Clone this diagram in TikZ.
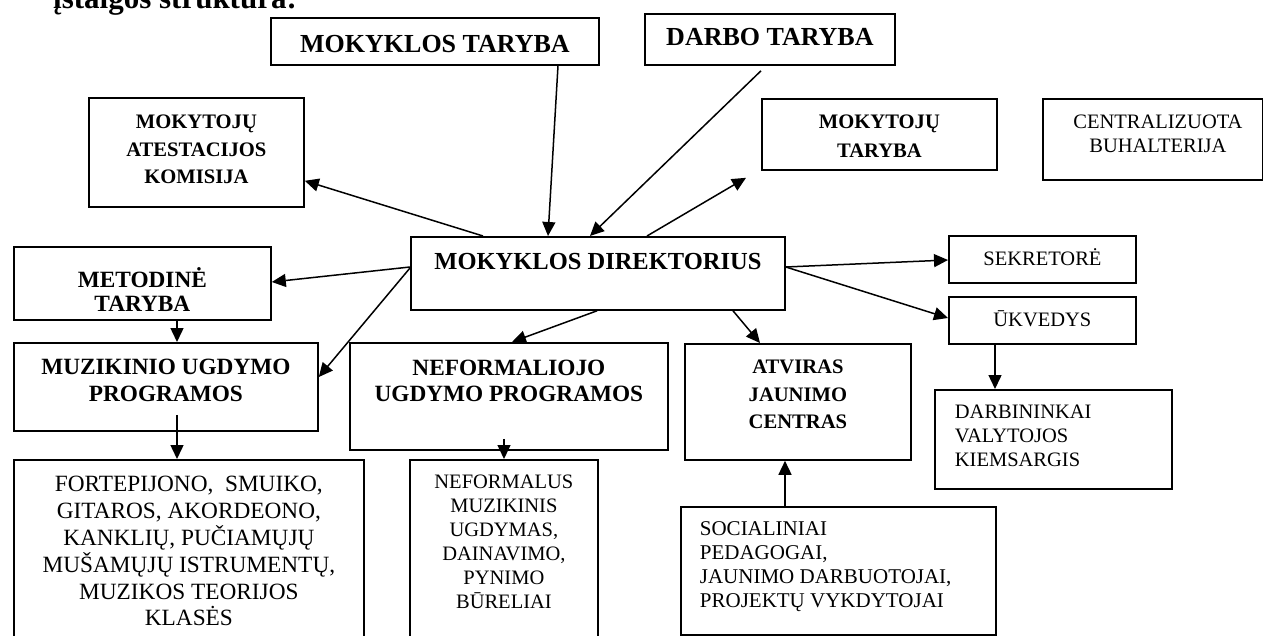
\documentclass[tikz,border=0pt]{standalone}
\usepackage{fontspec}
\setmainfont{Liberation Serif}
\usetikzlibrary{arrows.meta}

% box text: width, height, first baseline from top, line skip, lines
\newcommand{\cellbox}[5]{\parbox[c][#2][t]{#1}{\baselineskip=#4\relax\centering
  \vspace*{\dimexpr#3-1em\relax}\rule{0pt}{1em}#5\par}}
% same, left aligned with an indent
\newcommand{\leftcellbox}[6]{\parbox[c][#2][t]{#1}{\baselineskip=#4\relax\raggedright
  \leftskip=#5\relax\vspace*{\dimexpr#3-1em\relax}\rule{0pt}{1em}#6\par}}

\tikzset{
    box/.style={
        draw, line width=1.8pt,
        inner sep=0pt, anchor=north west
    },
    headbig/.style={box, font=\fontsize{26}{30}\selectfont\bfseries},
    headdir/.style={box, font=\fontsize{24.5}{28}\selectfont\bfseries},
    headmid/.style={box, font=\fontsize{23.3}{27}\selectfont\bfseries},
    headsmall/.style={box, font=\fontsize{20.6}{24}\selectfont\bfseries},
    listbox/.style={box, font=\fontsize{20.5}{24}\selectfont},
    listbig/.style={box, font=\fontsize{23.3}{27}\selectfont},
    link/.style={-{Triangle[length=14pt,width=13pt]}, line width=1.5pt}
}

\begin{document}
\begin{tikzpicture}[x=1pt, y=-1pt]

        \useasboundingbox (0,0) rectangle (1263,636);
        \clip (0,0) rectangle (1263,636);

        % Title
        \node[anchor=base west, inner sep=0pt, font=\fontsize{31}{36}\selectfont\bfseries]
            (title) at (53,9) {įstaigos struktūra:};

        % Councils
        \node[headbig] (mt) at (270,17) {\cellbox{328pt}{47pt}{35pt}{30pt}{MOKYKLOS TARYBA}};
        \node[headbig] (dt) at (644,13) {\cellbox{250pt}{51pt}{32pt}{30pt}{DARBO TARYBA}};
        \node[headsmall] (mak) at (88,97) {\cellbox{215pt}{109pt}{31pt}{27.5pt}{MOKYTOJŲ\\ATESTACIJOS\\KOMISIJA}};
        \node[headsmall] (mtar) at (761,98) {\cellbox{235pt}{71pt}{30pt}{28.5pt}{MOKYTOJŲ\\TARYBA}};
        \node[listbox] (cb) at (1042,98) {\cellbox{220pt}{81pt}{30pt}{24pt}{\hspace*{10pt}CENTRALIZUOTA\\\hspace*{10pt}BUHALTERIJA}};

        % Director
        \node[headdir] (dir) at (410,236) {\cellbox{374pt}{73pt}{33pt}{28pt}{MOKYKLOS DIREKTORIUS}};

        % Staff
        \node[listbox] (sek) at (948,235) {\cellbox{187pt}{47pt}{30pt}{24pt}{SEKRETORĖ}};
        \node[listbox] (uk) at (948,296) {\cellbox{187pt}{47pt}{30pt}{24pt}{ŪKVEDYS}};
        \node[listbox] (darb) at (934,389) {\leftcellbox{237pt}{99pt}{29pt}{24pt}{20pt}{DARBININKAI\\VALYTOJOS\\KIEMSARGIS}};

        % Programmes
        \node[headmid] (met) at (13,246) {\cellbox{257pt}{73pt}{41pt}{23.3pt}{METODINĖ\\TARYBA}};
        \node[headmid] (muz) at (13,342) {\cellbox{304pt}{88pt}{32pt}{27pt}{MUZIKINIO UGDYMO\\PROGRAMOS}};
        \node[headmid] (nef) at (349,342) {\cellbox{318pt}{107pt}{33pt}{26pt}{NEFORMALIOJO\\UGDYMO PROGRAMOS}};
        \node[headsmall] (ajc) at (684,343) {\cellbox{226pt}{116pt}{30pt}{27.5pt}{ATVIRAS\\JAUNIMO\\CENTRAS}};

        % Classes and groups
        \node[listbig] (fort) at (13,459) {\cellbox{350pt}{200pt}{32pt}{26.8pt}{FORTEPIJONO,\ \ SMUIKO,\\GITAROS, AKORDEONO,\\KANKLIŲ, PUČIAMŲJŲ\\MUŠAMŲJŲ ISTRUMENTŲ,\\MUZIKOS TEORIJOS\\KLASĖS}};
        \node[listbox] (nefm) at (409,459) {\cellbox{188pt}{200pt}{29pt}{24pt}{NEFORMALUS\\MUZIKINIS\\UGDYMAS,\\DAINAVIMO,\\PYNIMO\\BŪRELIAI}};
        \node[listbox, font=\fontsize{21}{24}\selectfont] (soc) at (680,506) {\leftcellbox{315pt}{128pt}{29pt}{24pt}{19pt}{SOCIALINIAI\\PEDAGOGAI,\\JAUNIMO DARBUOTOJAI,\\PROJEKTŲ VYKDYTOJAI}};

        % Arrows
        \draw[link] ([xshift=288pt]mt.south west) -- ([xshift=138pt]dir.north west);
        \draw[link] ([xshift=117pt,yshift=-5pt]dt.south west) -- ([xshift=180pt]dir.north west);
        \draw[link] ([xshift=237pt]dir.north west) -- ([xshift=-15pt,yshift=-7pt]mtar.south west);
        \draw[link] ([xshift=73pt]dir.north west) -- ([yshift=27pt]mak.south east);
        \draw[link] ([yshift=-31pt]dir.north west) -- ([yshift=-36pt]met.north east);
        \draw[link] ([yshift=-32pt]dir.north west) -- ([yshift=-35pt]muz.north east);
        \draw[link] ([xshift=164pt]met.south west) -- ([xshift=164pt]muz.north west);
        \draw[link] ([xshift=164pt,yshift=17pt]muz.south west) -- ([xshift=164pt]fort.north west);
        \draw[link] ([xshift=187pt]dir.south west) -- ([xshift=163pt]nef.north west);
        \draw[link] ([xshift=155pt,yshift=12pt]nef.south west) -- ([xshift=95pt]nefm.north west);
        \draw[link] ([xshift=323pt]dir.south west) -- ([xshift=76pt]ajc.north west);
        \draw[link] ([xshift=105pt]soc.north west) -- ([xshift=101pt]ajc.south west);
        \draw[link] ([yshift=-31pt]dir.north east) -- ([yshift=-25pt]sek.north west);
        \draw[link] ([yshift=-31pt]dir.north east) -- ([yshift=-22pt]uk.north west);
        \draw[link] ([xshift=47pt]uk.south west) -- ([xshift=61pt]darb.north west);

\end{tikzpicture}
\end{document}
